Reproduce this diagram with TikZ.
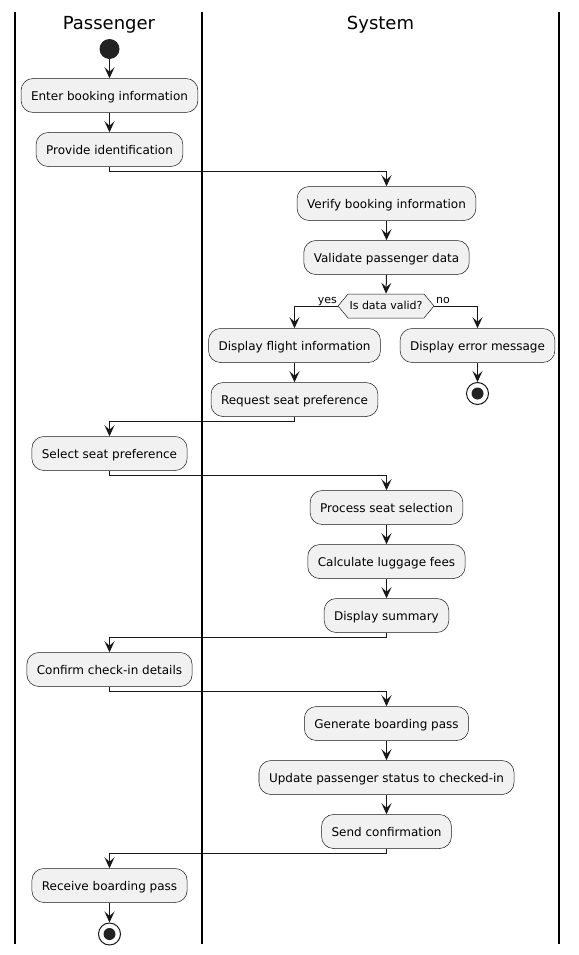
\documentclass[tikz,border=0pt]{standalone}
\usepackage{fontspec}
\setmainfont{DejaVu Sans}
\usetikzlibrary{arrows.meta,shapes.symbols}
\definecolor{ink}{HTML}{181818}
\definecolor{boxfill}{HTML}{F1F1F1}
\definecolor{dot}{HTML}{222222}
\begin{document}
\begin{tikzpicture}[x=1pt,y=-1pt,
  action/.style={draw=ink, line width=0.5pt, fill=boxfill, rounded corners=12pt,
    minimum height=34pt, inner xsep=10pt, inner ysep=0pt,
    text height=12.5pt, text depth=3pt,
    font=\fontsize{12}{14}\selectfont},
  decision/.style={signal, signal to=west and east, signal pointer angle=100,
    draw=ink, line width=0.5pt, fill=boxfill, minimum width=96pt,
    minimum height=24pt, inner sep=0pt, text height=8pt, text depth=2pt,
    font=\fontsize{11}{13}\selectfont},
  lbl/.style={inner sep=0pt, font=\fontsize{11}{13}\selectfont},
  lanetitle/.style={inner sep=0pt, font=\fontsize{18}{21}\selectfont},
  flow/.style={draw=ink, line width=1pt, -{Stealth[length=11pt,width=10pt,inset=4.5pt]}},
  lane/.style={draw=black, line width=1.5pt},
  startdot/.style={circle, fill=dot, minimum size=20pt, inner sep=0pt},
  enddot/.style={circle, draw=ink, line width=1pt, fill=white, minimum size=22pt, inner sep=0pt,
    path picture={\fill[dot] (path picture bounding box.center) circle (6pt);}},
]
\useasboundingbox (0,0) rectangle (578,955);

% swimlane borders
\draw[lane] (15,12) -- (15,944);
\draw[lane] (202,12) -- (202,944);
\draw[lane] (559,12) -- (559,944);

% swimlane headers
\node[lanetitle, anchor=base] (hpass) at (109,29.5) {Passenger};
\node[lanetitle, anchor=base] (hsys) at (380.5,29.5) {System};

% passenger lane
\node[startdot] (start) at (109.5,49) {};
\node[action] (enter) at (109.5,95.5) {Enter booking information};
\node[action] (ident) at (109.5,149.5) {Provide identification};

% system lane
\node[action] (verify) at (386.5,203.5) {Verify booking information};
\node[action] (validate) at (386.5,257.5) {Validate passenger data};
\node[decision] (valid) at (386,306) {Is data valid?};
\node[lbl, anchor=base east] (yes) at (337,303) {yes};
\node[lbl, anchor=base west] (no) at (436,303) {no};
\node[action] (flight) at (294.5,345.5) {Display flight information};
\node[action] (error) at (477.5,345.5) {Display error message};
\node[enddot] (stoperr) at (477.5,393.5) {};
\node[action] (reqseat) at (294.5,399.5) {Request seat preference};

\node[action] (selseat) at (109.5,453.5) {Select seat preference};

\node[action] (process) at (386.5,507.5) {Process seat selection};
\node[action] (luggage) at (386.5,561.5) {Calculate luggage fees};
\node[action] (summary) at (386.5,615.5) {Display summary};

\node[action] (confirm) at (109.5,669.5) {Confirm check-in details};

\node[action] (genpass) at (386.5,723.5) {Generate boarding pass};
\node[action] (status) at (386.5,777.5) {Update passenger status to checked-in};
\node[action] (sendconf) at (386.5,831.5) {Send confirmation};

\node[action] (receive) at (109.5,885.5) {Receive boarding pass};
\node[enddot] (stop) at (109.5,934) {};

% control flow
\draw[flow] (start.south) -- (enter.north);
\draw[flow] (enter.south) -- (ident.north);
\draw[flow] (ident.south) -- ++(0,5) -| (verify.north);
\draw[flow] (verify.south) -- (validate.north);
\draw[flow] (validate.south) -- (valid.north);
\draw[flow] (valid.west) -| (flight.north);
\draw[flow] (valid.east) -| (error.north);
\draw[flow] (error.south) -- (stoperr.north);
\draw[flow] (flight.south) -- (reqseat.north);
\draw[flow] (reqseat.south) -- ++(0,5) -| (selseat.north);
\draw[flow] (selseat.south) -- ++(0,5) -| (process.north);
\draw[flow] (process.south) -- (luggage.north);
\draw[flow] (luggage.south) -- (summary.north);
\draw[flow] (summary.south) -- ++(0,5) -| (confirm.north);
\draw[flow] (confirm.south) -- ++(0,5) -| (genpass.north);
\draw[flow] (genpass.south) -- (status.north);
\draw[flow] (status.south) -- (sendconf.north);
\draw[flow] (sendconf.south) -- ++(0,5) -| (receive.north);
\draw[flow] (receive.south) -- (stop.north);
\end{tikzpicture}
\end{document}
